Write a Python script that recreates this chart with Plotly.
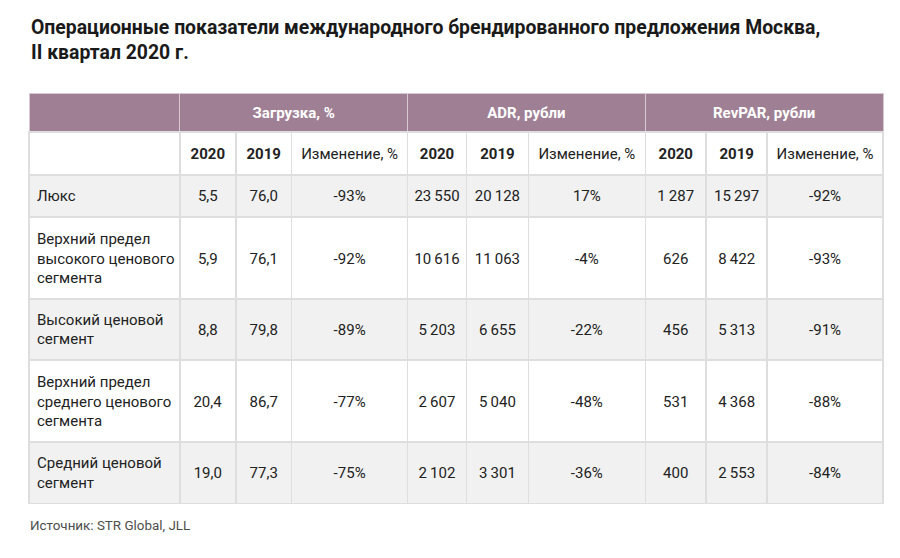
import plotly.graph_objects as go

title_lines = ["Операционные показатели международного брендированного предложения Москва,",
               "II квартал 2020 г."]
source_text = "Источник: STR Global, JLL"

group_labels = ["", "Загрузка, %", "ADR, рубли", "RevPAR, рубли"]
sub_labels = ["2020", "2019", "Изменение,\u00a0%"]

categories = ["Люкс",
              "Верхний предел<br>высокого ценового<br>сегмента",
              "Высокий ценовой<br>сегмент",
              "Верхний предел<br>среднего ценового<br>сегмента",
              "Средний ценовой<br>сегмент"]
occ_2020 = [5.5, 5.9, 8.8, 20.4, 19.0]
occ_2019 = [76.0, 76.1, 79.8, 86.7, 77.3]
occ_chg = [-93, -92, -89, -77, -75]
adr_2020 = [23550, 10616, 5203, 2607, 2102]
adr_2019 = [20128, 11063, 6655, 5040, 3301]
adr_chg = [17, -4, -22, -48, -36]
rev_2020 = [1287, 626, 456, 531, 400]
rev_2019 = [15297, 8422, 5313, 4368, 2553]
rev_chg = [-92, -93, -91, -88, -84]


def fmt_dec(v):
    return f"{v:.1f}".replace(".", ",")


def fmt_int(v):
    return f"{v:,}".replace(",", "\u2009")


def fmt_pct(v):
    return f"{v}%"


FONT = "Roboto"
FS = 15                  # visible text size
BASE = 1                 # table font size: sets the fine line step used for vertical placement
STEP = 1.3 * BASE        # px per <br> at the base size
GAP = 15                 # base steps between two visible lines (~19.5 px)
B0 = 9.0                 # first baseline below the cell top
VC = 4.7                 # visual centre of a 15px line above its baseline

# page body has an 8px margin: the figure's origin sits at page (8, 8)
OX, OY = 8, 8
W, H = 892, 550


def px(x):
    return (x - OX) / W


def py(y):
    return 1 - (y - OY) / H


TINY = "<span style='fill-opacity:0'>.</span>"


def k_for(center):
    return max(1, round((center + VC - B0) / STEP))


def row_height(n):
    return 42 if n == 1 else 22 + 20 * n


def j_for(hr):
    return round((hr - 16 - 1.17) / STEP)


def place(lines, n_row, bold=False, cell_h=None):
    """Build a cell string that puts the given visible lines in the middle of the cell."""
    hr = cell_h if cell_h is not None else row_height(n_row)
    if cell_h is None and n_row > 1:
        j = j_for(hr)
        hr = 16 + STEP * j + 1.17
    else:
        j = None
    first_center = (hr - STEP * GAP * (len(lines) - 1)) / 2 + 0.5
    k = k_for(first_center)
    out = [""] * (k + GAP * (len(lines) - 1) + 1)
    out[0] = TINY
    for i, l in enumerate(lines):
        t = f"<b>{l}</b>" if bold else l
        out[k + GAP * i] = f"<span style='font-size:{FS}px'>{t}</span>"
    if j is not None:
        if j >= len(out):
            out += [""] * (j - len(out) + 1)
        out[j] = TINY
    else:
        out.append("")
    return "<br>".join(out)


n_lines = [len(c.split("<br>")) for c in categories]


def val_col(vals, fmt):
    return [place([fmt(v)], n) for v, n in zip(vals, n_lines)]


x0, x1 = 29, 884
purple = "#9F7F94"
grey = "#F0F1F0"
line_c = "#DEDEDE"
text_c = "#222222"

col_w = [151, 56, 56, 116, 59, 62, 117, 61, 61, 116]
grp_w = [151, 228, 238, 238]

columns = [[place(c.split("<br>"), n) for c, n in zip(categories, n_lines)],
           val_col(occ_2020, fmt_dec), val_col(occ_2019, fmt_dec), val_col(occ_chg, fmt_pct),
           val_col(adr_2020, fmt_int), val_col(adr_2019, fmt_int), val_col(adr_chg, fmt_pct),
           val_col(rev_2020, fmt_int), val_col(rev_2019, fmt_int), val_col(rev_chg, fmt_pct)]

header2 = [""] + [place([s], 1, bold=s.isdigit(), cell_h=43) for s in sub_labels] * 3
header1 = [place([g], 1, bold=True, cell_h=39) if g else "" for g in group_labels]
row_fill = [grey if i % 2 == 0 else "white" for i in range(len(categories))]

fig = go.Figure()

fig.add_trace(go.Table(
    domain=dict(x=[px(x0), px(x1)], y=[py(175), py(93)]),
    columnwidth=grp_w,
    header=dict(values=header1,
                fill_color=purple, line=dict(color="#D6C9D1", width=1),
                font=dict(family=FONT, size=BASE, color="white"),
                align="center", height=39),
    cells=dict(values=[[""]] * 4, fill_color="white", line=dict(color="white", width=0),
               font=dict(family=FONT, size=BASE, color="white"), height=1),
))

fig.add_trace(go.Table(
    domain=dict(x=[px(x0), px(x1)], y=[py(530), py(132)]),
    columnwidth=col_w,
    header=dict(values=header2, fill_color="white", line=dict(color=line_c, width=1.5),
                font=dict(family=FONT, size=BASE, color=text_c),
                align="center", height=43),
    cells=dict(values=columns, fill_color=[row_fill] * len(columns),
               line=dict(color=line_c, width=1.5),
               font=dict(family=FONT, size=BASE, color=text_c),
               align=["left"] + ["center"] * 9, height=42),
))

fig.add_annotation(x=px(x0), y=py(14), xref="paper", yref="paper",
                   xanchor="left", yanchor="top", align="left", showarrow=False,
                   text="<b>" + "<br>".join(title_lines) + "</b>",
                   font=dict(family=FONT, size=19.4, color="#1a1a1a"))
fig.add_annotation(x=px(x0 - 1), y=py(525), xref="paper", yref="paper",
                   xanchor="left", yanchor="middle", showarrow=False,
                   text=source_text, font=dict(family=FONT, size=13.4, color="#4d4d4d"))

fig.update_layout(width=W, height=H, margin=dict(l=0, r=0, t=0, b=0),
                  paper_bgcolor="white", plot_bgcolor="white", showlegend=False)

fig.write_html("out.html")
